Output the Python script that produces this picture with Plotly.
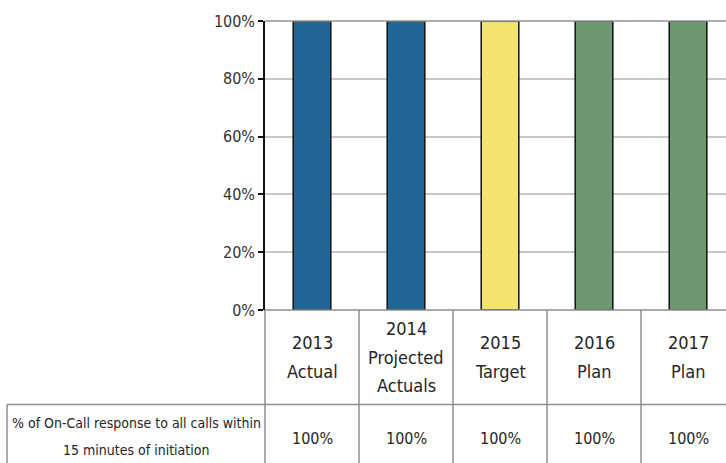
import plotly.graph_objects as go

categories = ["2013<br>Actual", "2014<br>Projected<br>Actuals", "2015<br>Target", "2016<br>Plan", "2017<br>Plan"]
values = [100, 100, 100, 100, 100]
table_values = ["100%", "100%", "100%", "100%", "100%"]
row_label = "% of On-Call response to all calls within<br>15 minutes of initiation"
bar_colors = ["#1F6697", "#1F6697", "#F3E46F", "#6F9870", "#6F9870"]
y_ticks = [0, 20, 40, 60, 80, 100]
y_ticktext = ["0%", "20%", "40%", "60%", "80%", "100%"]

W, H = 726, 463
ML, MR, MT, MB = 265, 0, 21, 153
X0, X1 = -0.5, 4.404
plot_w = W - ML - MR
plot_h = H - MT - MB

def px_x(px):
    return (px - ML) / plot_w

def px_y(py):
    return (H - MB - py) / plot_h

def dx(v):
    return (v - X0) / (X1 - X0)

fig = go.Figure()
xs = list(range(len(categories)))
fig.add_trace(go.Bar(
    x=xs, y=values, width=0.4,
    marker=dict(color=bar_colors, line=dict(color="#111111", width=1.5)),
    hoverinfo="skip",
))

line_col = "#8E8E8E"
shapes = []
shapes.append(dict(type="line", xref="paper", yref="paper", x0=0, x1=1, y0=1, y1=1,
                   line=dict(color="#959595", width=1.5)))
shapes.append(dict(type="line", xref="paper", yref="paper", x0=0, x1=1.02, y0=0, y1=0,
                   line=dict(color=line_col, width=1.5)))
yl_mid = px_y(404.5)
shapes.append(dict(type="line", xref="paper", yref="paper", x0=px_x(7), x1=1.02, y0=yl_mid, y1=yl_mid,
                   line=dict(color=line_col, width=1.5)))
shapes.append(dict(type="line", xref="paper", yref="paper", x0=px_x(7), x1=px_x(7), y0=yl_mid, y1=px_y(470),
                   line=dict(color=line_col, width=1.5)))
for b in [X0 + i for i in range(len(categories) + 1)]:
    xp = dx(b)
    if xp > 1.01:
        continue
    shapes.append(dict(type="line", xref="paper", yref="paper", x0=xp, x1=xp, y0=0, y1=px_y(470),
                       line=dict(color=line_col, width=1.5)))

annotations = []
font_narrow = "DejaVu Sans Condensed, Liberation Sans Narrow, sans-serif"
txt_col = "#262626"
LS_CAT = 28.5
for i, (c, tv) in enumerate(zip(categories, table_values)):
    lines = c.split("<br>")
    n = len(lines)
    for k, ln in enumerate(lines):
        yc = 357 + (k - (n - 1) / 2) * LS_CAT
        annotations.append(dict(x=dx(i), y=px_y(yc), xref="paper", yref="paper", text=ln,
                                showarrow=False, xanchor="center", yanchor="middle",
                                font=dict(family=font_narrow, size=18, color=txt_col)))
    annotations.append(dict(x=dx(i), y=px_y(438), xref="paper", yref="paper", text=tv,
                            showarrow=False, xanchor="center", yanchor="middle",
                            font=dict(family=font_narrow, size=16, color=txt_col)))
for k, ln in enumerate(row_label.split("<br>")):
    annotations.append(dict(x=px_x(136), y=px_y(423 + 27 * k), xref="paper", yref="paper", text=ln,
                            showarrow=False, xanchor="center", yanchor="middle",
                            font=dict(family=font_narrow, size=14, color=txt_col)))

fig.update_layout(
    width=W, height=H,
    margin=dict(l=ML, r=MR, t=MT, b=MB, pad=0),
    paper_bgcolor="white", plot_bgcolor="white",
    showlegend=False,
    bargap=0.6,
    xaxis=dict(range=[X0, X1], showticklabels=False, showgrid=False, zeroline=False,
               showline=False, ticks="", fixedrange=True),
    yaxis=dict(range=[0, 100], tickvals=y_ticks, ticktext=y_ticktext,
               showgrid=True, gridcolor="#C8C8C8", gridwidth=1.5, zeroline=False,
               showline=True, linecolor="#111111", linewidth=1.5,
               ticks="outside", ticklen=5, tickwidth=1.5, tickcolor="#111111",
               tickfont=dict(family=font_narrow, size=16, color="#333333"),
               fixedrange=True),
    shapes=shapes,
    annotations=annotations,
)

fig.write_html("out.html")
